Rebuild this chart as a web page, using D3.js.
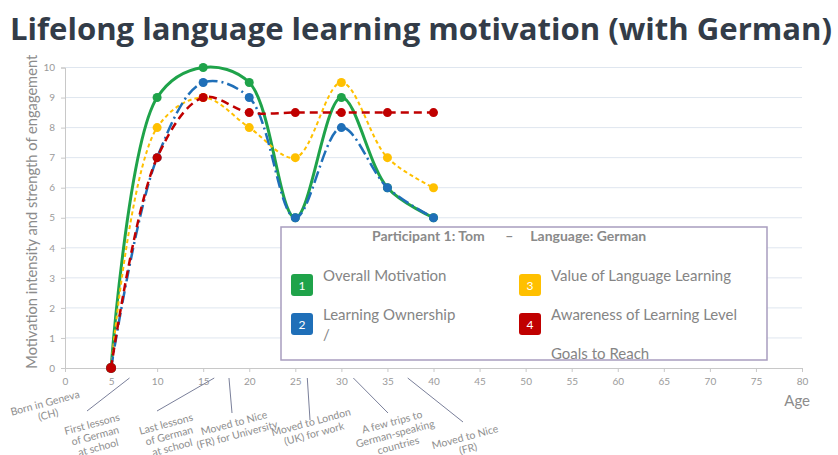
<!DOCTYPE html>
<html>
<head>
<meta charset="utf-8">
<script src="https://cdn.jsdelivr.net/npm/d3@7"></script>
<style>
  body { margin: 0; background: #fff; }
  svg { display: block; }
</style>
</head>
<body>
<div id="chart"></div>
<script>
    'use strict';

    // data
    var ages = [5, 10, 15, 20, 25, 30, 35, 40];
    var overallMotivation = [0, 9, 10, 9.5, 5, 9, 6, 5];
    var learningOwnership = [0, 7, 9.5, 9, 5, 8, 6, 5];
    var valueOfLearning = [0, 8, 9, 8, 7, 9.5, 7, 6];
    var awarenessLevel = [0, 7, 9, 8.5, 8.5, 8.5, 8.5, 8.5];

    var xTicks = d3.range(0, 81, 5);
    var yTicks = d3.range(0, 11, 1);

    var legendNames = [['Overall Motivation'], ['Learning Ownership', '/'],
        ['Value of Language Learning'], ['Awareness of Learning Level', '', 'Goals to Reach']];

    var eventAges = [null, 7, 16.2, 17.8, 26.3, 31.3, 37.2];
    var eventLabels = [
        ['Born in Geneva', '(CH)'],
        ['First lessons', 'of German', 'at school'],
        ['Last lessons', 'of German', 'at school'],
        ['Moved to Nice', '(FR) for University'],
        ['Moved to London', '(UK) for work'],
        ['A few trips to', 'German-speaking', 'countries'],
        ['Moved to Nice', '(FR)']
    ];

    // layout for the annotations (leader end, text centre)
    var eventLayout = [
        { lx: 0, ly: 0, tx: 45, ty: 403 },
        { lx: 87, ly: 411, tx: 92, ty: 424 },
        { lx: 157, ly: 411, tx: 166, ty: 424 },
        { lx: 232, ly: 413, tx: 234, ty: 423 },
        { lx: 310, ly: 420, tx: 311, ty: 422 },
        { lx: 388, ly: 413, tx: 392, ty: 422 },
        { lx: 463, ly: 422, tx: 465, ty: 437 }
    ];

    var width = 838;
    var height = 455;
    var font = 'Lato, "Open Sans", sans-serif';

    var x = d3.scaleLinear().domain([0, 80]).range([65, 802]);
    var y = d3.scaleLinear().domain([0, 10]).range([368, 67.5]);

    var svg = d3.select('#chart').append('svg')
        .attr('width', width)
        .attr('height', height);

    svg.append('text')
        .attr('x', 10)
        .attr('y', 40)
        .attr('textLength', 822)
        .attr('lengthAdjust', 'spacingAndGlyphs')
        .style('font-family', '"Open Sans", sans-serif')
        .style('font-weight', 700)
        .style('font-size', '29.5px')
        .style('fill', '#333c48')
        .text('Lifelong language learning motivation (with German)');

    // grid
    svg.append('g').selectAll('line')
        .data(yTicks.filter(function (d) { return d > 0; }))
        .enter().append('line')
        .attr('x1', x(0)).attr('x2', x(80))
        .attr('y1', function (d) { return y(d); })
        .attr('y2', function (d) { return y(d); })
        .style('stroke', '#dfe6ef')
        .style('stroke-width', 1);

    var xAxis = svg.append('g')
        .attr('transform', 'translate(0,' + y(0) + ')')
        .call(d3.axisBottom(x).tickValues(xTicks).tickSize(4).tickPadding(6));
    var yAxis = svg.append('g')
        .attr('transform', 'translate(' + x(0) + ',0)')
        .call(d3.axisLeft(y).tickValues(yTicks).tickSize(4).tickPadding(6));

    [xAxis, yAxis].forEach(function (ax) {
        ax.select('.domain').style('stroke', '#c8c8c8');
        ax.selectAll('.tick line').style('stroke', '#c8c8c8');
        ax.selectAll('.tick text')
            .style('font-family', font)
            .style('font-size', '10px')
            .style('fill', '#9a9a9a');
    });

    svg.append('text')
        .attr('transform', 'translate(33,' + y(5.2) + ') rotate(-90)')
        .attr('text-anchor', 'middle')
        .attr('dominant-baseline', 'middle')
        .attr('textLength', 314)
        .attr('lengthAdjust', 'spacingAndGlyphs')
        .style('font-family', font)
        .style('font-size', '14.5px')
        .style('fill', '#8c8c8c')
        .text('Motivation intensity and strength of engagement');

    svg.append('text')
        .attr('x', 810)
        .attr('y', 406)
        .attr('text-anchor', 'end')
        .style('font-family', font)
        .style('font-size', '15px')
        .style('fill', '#8c8c8c')
        .text('Age');

    // series
    var series = [
        { values: overallMotivation, color: '#1fa34a', width: 3, dash: null },
        { values: valueOfLearning, color: '#ffc000', width: 2, dash: '4,3' },
        { values: learningOwnership, color: '#1f6fb8', width: 2.5, dash: '12,4,2,4' },
        { values: awarenessLevel, color: '#c00000', width: 2.5, dash: '8,5' }
    ];

    var line = d3.line()
        .x(function (d) { return x(d[0]); })
        .y(function (d) { return y(d[1]); })
        .curve(d3.curveCatmullRom.alpha(0.5));

    series.forEach(function (s) {
        var pts = ages.map(function (a, i) { return [a, s.values[i]]; });
        var g = svg.append('g');
        g.append('path')
            .datum(pts)
            .attr('d', line)
            .style('fill', 'none')
            .style('stroke', s.color)
            .style('stroke-width', s.width)
            .style('stroke-dasharray', s.dash);
        g.selectAll('circle').data(pts).enter().append('circle')
            .attr('cx', function (d) { return x(d[0]); })
            .attr('cy', function (d) { return y(d[1]); })
            .attr('r', function (d) { return d[1] === 0 ? 5 : 4.5; })
            .style('fill', s.color);
    });

    // legend box
    var legend = svg.append('g');
    legend.append('rect')
        .attr('x', 281).attr('y', 227)
        .attr('width', 486).attr('height', 133)
        .style('fill', '#fff')
        .style('stroke', '#a89dbf')
        .style('stroke-width', 1.5);

    legend.append('text')
        .attr('x', 372).attr('y', 241)
        .attr('xml:space', 'preserve')
        .style('font-family', font)
        .style('font-weight', 700)
        .style('font-size', '14px')
        .style('fill', '#8a8a8a')
        .text('Participant 1: Tom      –     Language: German');

    var legendColors = ['#1fa34a', '#1f6fb8', '#ffc000', '#c00000'];
    legendNames.forEach(function (lines, i) {
        var col = i < 2 ? 0 : 1;
        var row = i % 2;
        var bx = col === 0 ? 291 : 519;
        var by = row === 0 ? 274 : 313;
        var item = legend.append('g');
        item.append('rect')
            .attr('x', bx).attr('y', by)
            .attr('width', 22).attr('height', 22)
            .attr('rx', 3)
            .style('fill', legendColors[i]);
        item.append('text')
            .attr('x', bx + 11).attr('y', by + 16)
            .attr('text-anchor', 'middle')
            .style('font-family', font)
            .style('font-size', '12px')
            .style('fill', '#fff')
            .text(String(i + 1));
        item.selectAll('text.name').data(lines).enter().append('text')
            .attr('class', 'name')
            .attr('x', bx + 32)
            .attr('y', function (d, j) { return by + 7 + j * 19.5; })
            .style('font-family', font)
            .style('font-size', '15px')
            .style('fill', '#858585')
            .text(function (d) { return d; });
    });

    // life events under the axis
    var notes = svg.append('g');
    eventLabels.forEach(function (lines, i) {
        var p = eventLayout[i];
        if (eventAges[i] !== null) {
            notes.append('line')
                .attr('x1', x(eventAges[i])).attr('y1', 378)
                .attr('x2', p.lx).attr('y2', p.ly)
                .style('stroke', '#7a7f9a')
                .style('stroke-width', 1);
        }
        var t = notes.append('text')
            .attr('transform', 'translate(' + p.tx + ',' + p.ty + ') rotate(-15)')
            .attr('text-anchor', 'middle')
            .style('font-family', font)
            .style('font-size', '10.5px')
            .style('fill', '#8e8e8e');
        t.selectAll('tspan').data(lines).enter().append('tspan')
            .attr('x', 0)
            .attr('dy', function (d, j) { return j === 0 ? '0.35em' : '1.15em'; })
            .text(function (d) { return d; });
    });
</script>
</body>
</html>
